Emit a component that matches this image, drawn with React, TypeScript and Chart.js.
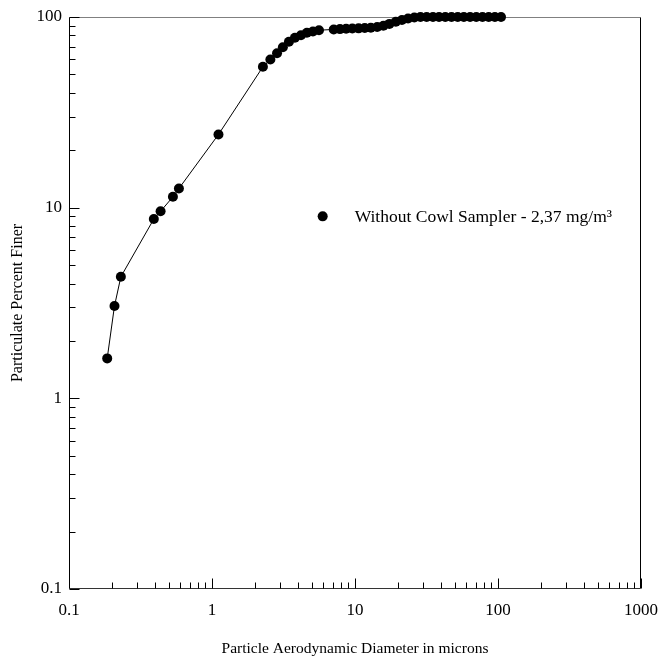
import React, { useEffect, useRef } from 'react';
import { Chart, registerables } from 'chart.js';

Chart.register(...registerables);

// ---- Data ----
const DIAMETERS_UM = [
  0.185, 0.208, 0.2305, 0.392, 0.437, 0.533, 0.587, 1.11,
  2.27, 2.56, 2.85, 3.13, 3.45, 3.8, 4.19, 4.61, 5.08, 5.6,
  7.1, 7.85, 8.67, 9.58, 10.6, 11.7, 12.9, 14.3, 15.8, 17.4, 19.3, 21.3, 23.5, 26.0,
  28.7, 31.7, 35.1, 38.7, 42.8, 47.3, 52.3, 57.7, 63.8, 70.5, 77.9, 86.1, 95.1, 105,
];
const PERCENT_FINER = [
  1.62, 3.05, 4.34, 8.72, 9.57, 11.4, 12.6, 24.2,
  54.8, 59.8, 64.6, 69.4, 74.1, 77.8, 80.2, 82.6, 83.9, 85.3,
  86.0, 86.4, 86.7, 87.0, 87.2, 87.5, 87.9, 88.6, 90.0, 92.0, 94.5, 96.5, 98.3, 99.4,
  100, 100, 100, 100, 100, 100, 100, 100, 100, 100, 100, 100, 100, 100,
];
const SERIES_LABEL = 'Without Cowl Sampler - 2,37 mg/m\u00B3';
const X_TITLE = 'Particle Aerodynamic Diameter in microns';
const Y_TITLE = 'Particulate Percent Finer';
const X_DECADES = [0.1, 1, 10, 100, 1000];
const Y_DECADES = [0.1, 1, 10, 100];
const MINOR_MULTIPLIERS = [2, 3, 4, 5, 6, 7, 8, 9];

const FONT = "'Liberation Serif', 'Times New Roman', serif";

function buildTicks(decades: number[]) {
  const ticks: { value: number; major: boolean }[] = [];
  decades.forEach((d, i) => {
    ticks.push({ value: d, major: true });
    if (i < decades.length - 1) {
      MINOR_MULTIPLIERS.forEach((m) => {
        ticks.push({ value: parseFloat((d * m).toPrecision(6)), major: false });
      });
    }
  });
  return ticks;
}

const framePlugin = {
  id: 'frameAndInsideTicks',
  beforeDatasetsDraw(chart: any) {
    const { ctx, chartArea: a, scales } = chart;
    ctx.save();
    ctx.lineWidth = 1;
    const L = Math.round(a.left) + 0.5;
    const R = Math.round(a.right) - 0.5;
    const T = Math.round(a.top) + 0.5;
    const B = Math.round(a.bottom) - 0.5;
    // top edge (lighter), other edges black
    ctx.strokeStyle = '#808080';
    ctx.beginPath();
    ctx.moveTo(L, T);
    ctx.lineTo(R, T);
    ctx.stroke();
    ctx.strokeStyle = '#000';
    ctx.beginPath();
    ctx.moveTo(R, T);
    ctx.lineTo(R, B);
    ctx.moveTo(L, T);
    ctx.lineTo(L, B);
    ctx.stroke();
    ctx.strokeStyle = '#333';
    ctx.beginPath();
    ctx.moveTo(L, B);
    ctx.lineTo(R, B);
    ctx.stroke();
    // inside ticks on bottom and left axes
    ctx.strokeStyle = '#000';
    ctx.beginPath();
    scales.x.ticks.forEach((t: any) => {
      const px = Math.round(scales.x.getPixelForValue(t.value)) + 0.5;
      const len = t.major ? 10 : 6;
      ctx.moveTo(px, B);
      ctx.lineTo(px, B - len);
    });
    scales.y.ticks.forEach((t: any) => {
      const py = Math.round(scales.y.getPixelForValue(t.value)) + 0.5;
      const len = t.major ? 10 : 6;
      ctx.moveTo(L, py);
      ctx.lineTo(L + len, py);
    });
    ctx.stroke();
    ctx.restore();
  },
  afterDraw(chart: any) {
    const { ctx, chartArea: a } = chart;
    const ds = chart.data.datasets[0];
    const cx = a.left + (a.right - a.left) * 0.4435;
    const cy = a.top + (a.bottom - a.top) * 0.3485;
    ctx.save();
    ctx.fillStyle = '#000';
    ctx.beginPath();
    ctx.arc(cx, cy, 5, 0, Math.PI * 2);
    ctx.fill();
    ctx.font = `17.5px ${FONT}`;
    ctx.textAlign = 'left';
    ctx.textBaseline = 'middle';
    ctx.fillText(ds.label, cx + 32, cy + 1);
    ctx.restore();
  },
};

export default function App() {
  const canvasRef = useRef<HTMLCanvasElement | null>(null);

  useEffect(() => {
    if (!canvasRef.current) return;
    const chart = new Chart(canvasRef.current, {
      type: 'line',
      data: {
        datasets: [
          {
            label: SERIES_LABEL,
            data: DIAMETERS_UM.map((x, i) => ({ x, y: PERCENT_FINER[i] })),
            borderColor: '#000',
            backgroundColor: '#000',
            borderWidth: 1,
            pointRadius: 5,
            pointBorderWidth: 0,
            pointBackgroundColor: '#000',
            tension: 0,
            clip: false as any,
          },
        ],
      },
      options: {
        animation: false,
        responsive: false,
        events: [],
        layout: { padding: { top: 17, right: 22, left: 0, bottom: 0 } },
        plugins: {
          legend: { display: false },
          tooltip: { enabled: false },
        },
        scales: {
          x: {
            type: 'logarithmic',
            min: 0.1,
            max: 1000,
            grid: { display: false, drawTicks: false, drawOnChartArea: false },
            border: { display: false },
            afterBuildTicks: (scale: any) => {
              scale.ticks = buildTicks(X_DECADES);
            },
            afterFit: (scale: any) => {
              scale.height = 69;
              scale.paddingLeft = 0;
              scale.paddingRight = 0;
            },
            ticks: {
              autoSkip: false,
              maxRotation: 0,
              padding: 11,
              color: '#000',
              font: { family: FONT, size: 17 },
              callback: (v: any, i: number, ticks: any[]) => (ticks[i].major ? String(v) : ''),
            },
            title: {
              display: true,
              text: X_TITLE,
              color: '#000',
              font: { family: FONT, size: 15.5 },
              padding: { top: 5, bottom: 0 },
            },
          },
          y: {
            type: 'logarithmic',
            min: 0.1,
            max: 100,
            grid: { display: false, drawTicks: false, drawOnChartArea: false },
            border: { display: false },
            afterBuildTicks: (scale: any) => {
              scale.ticks = buildTicks(Y_DECADES);
            },
            afterFit: (scale: any) => {
              scale.width = 69;
              scale.paddingTop = 0;
              scale.paddingBottom = 0;
            },
            ticks: {
              autoSkip: false,
              padding: 7,
              color: '#000',
              font: { family: FONT, size: 17 },
              callback: (v: any, i: number, ticks: any[]) => (ticks[i].major ? String(v) : ''),
            },
            title: {
              display: true,
              text: Y_TITLE,
              color: '#000',
              font: { family: FONT, size: 16 },
              padding: { top: 8, bottom: 0 },
            },
          },
        },
      } as any,
      plugins: [framePlugin],
    });
    return () => chart.destroy();
  }, []);

  return (
    <div style={{ position: 'fixed', left: 0, top: 0, width: 663, height: 658, background: '#fff' }}>
      <canvas ref={canvasRef} width={663} height={658} style={{ display: 'block' }} />
    </div>
  );
}
